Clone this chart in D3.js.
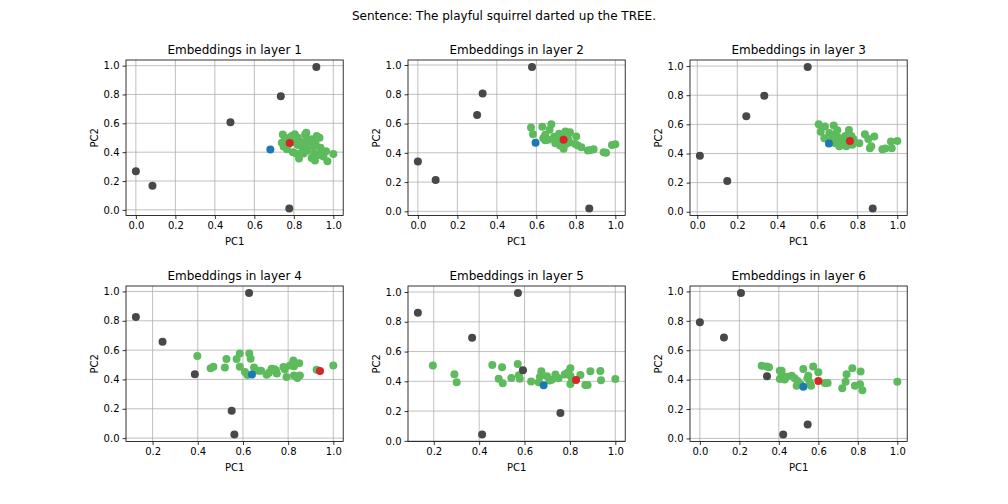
<!DOCTYPE html>
<html>
<head>
<meta charset="utf-8">
<script src="https://cdn.jsdelivr.net/npm/d3@7"></script>
<style>
  body { margin: 0; background: #fff; }
  text { font-family: "DejaVu Sans", sans-serif; fill: #000; }
</style>
</head>
<body>
<svg id="chart" width="1008" height="504"></svg>
<script>
// ---- data (PC1, PC2 per token, one list per layer) ----
const suptitle = 'Sentence: The playful squirrel darted up the TREE.';
const layerNames = [1, 2, 3, 4, 5, 6];

// other tokens of the sentence (dark grey)
const greyPoints = [
  [[0, 0.267], [0.084, 0.167], [0.479, 0.607], [0.734, 0.788], [0.914, 0.99], [0.777, 0.01]],
  [[0, 0.34], [0.09, 0.215], [0.30, 0.658], [0.328, 0.806], [0.578, 0.986], [0.868, 0.02]],
  [[0.013, 0.385], [0.15, 0.211], [0.245, 0.656], [0.335, 0.796], [0.552, 0.993], [0.877, 0.023]],
  [[0.126, 0.825], [0.244, 0.657], [0.387, 0.435], [0.627, 0.989], [0.55, 0.186], [0.562, 0.025]],
  [[0.13, 0.861], [0.369, 0.692], [0.571, 0.993], [0.593, 0.474], [0.758, 0.187], [0.413, 0.043]],
  [[0, 0.791], [0.122, 0.686], [0.208, 0.989], [0.34, 0.423], [0.546, 0.095], [0.422, 0.027]]
];

// neighbour words (green)
const greenPoints = [
  [[0.744, 0.523], [0.789, 0.512], [0.805, 0.525], [0.857, 0.523], [0.863, 0.535], [0.916, 0.512],
   [0.93, 0.5], [0.739, 0.465], [0.748, 0.44], [0.765, 0.42], [0.76, 0.48], [0.795, 0.4],
   [0.812, 0.39], [0.826, 0.356], [0.82, 0.45], [0.84, 0.47], [0.845, 0.42], [0.86, 0.44],
   [0.87, 0.41], [0.88, 0.47], [0.89, 0.49], [0.9, 0.44], [0.905, 0.39], [0.89, 0.36],
   [0.907, 0.342], [0.925, 0.38], [0.94, 0.4], [0.935, 0.43], [0.963, 0.407], [0.97, 0.337],
   [1.0, 0.388], [0.78, 0.5], [0.8, 0.47], [0.77, 0.45], [0.87, 0.49], [0.91, 0.46],
   [0.95, 0.37], [0.85, 0.39], [0.82, 0.5], [0.755, 0.5]],
  [[0.573, 0.573], [0.583, 0.527], [0.63, 0.578], [0.676, 0.596], [0.667, 0.557], [0.645, 0.523],
   [0.645, 0.486], [0.635, 0.5], [0.66, 0.49], [0.69, 0.51], [0.71, 0.475], [0.696, 0.466],
   [0.7, 0.5], [0.715, 0.53], [0.73, 0.52], [0.747, 0.546], [0.755, 0.53], [0.76, 0.5],
   [0.768, 0.47], [0.72, 0.45], [0.738, 0.427], [0.75, 0.46], [0.71, 0.5], [0.73, 0.5],
   [0.802, 0.511], [0.797, 0.461], [0.81, 0.45], [0.828, 0.438], [0.861, 0.416], [0.875, 0.42],
   [0.89, 0.425], [0.941, 0.404], [0.953, 0.4], [0.983, 0.454], [1.0, 0.459], [0.77, 0.54]],
  [[0.607, 0.601], [0.638, 0.585], [0.617, 0.55], [0.635, 0.505], [0.682, 0.592], [0.66, 0.54],
   [0.68, 0.5], [0.69, 0.53], [0.7, 0.56], [0.705, 0.51], [0.715, 0.48], [0.72, 0.5],
   [0.73, 0.46], [0.74, 0.52], [0.745, 0.45], [0.75, 0.49], [0.758, 0.562], [0.77, 0.52],
   [0.775, 0.46], [0.71, 0.45], [0.69, 0.47], [0.81, 0.47], [0.838, 0.532], [0.855, 0.5],
   [0.863, 0.436], [0.87, 0.45], [0.885, 0.516], [0.925, 0.429], [0.94, 0.435], [0.968, 0.482],
   [0.972, 0.436], [1.0, 0.486], [0.67, 0.49], [0.78, 0.5]],
  [[0.398, 0.559], [0.457, 0.477], [0.469, 0.486], [0.52, 0.482], [0.527, 0.539], [0.572, 0.539],
   [0.586, 0.577], [0.586, 0.486], [0.628, 0.577], [0.634, 0.541], [0.609, 0.45], [0.62, 0.43],
   [0.649, 0.482], [0.668, 0.459], [0.68, 0.46], [0.705, 0.432], [0.715, 0.445], [0.727, 0.473],
   [0.746, 0.461], [0.75, 0.44], [0.779, 0.484], [0.785, 0.47], [0.793, 0.416], [0.808, 0.495],
   [0.823, 0.53], [0.826, 0.49], [0.849, 0.511], [0.826, 0.427], [0.841, 0.409], [0.852, 0.427],
   [0.926, 0.466], [1.0, 0.495], [0.74, 0.47]],
  [[0.196, 0.506], [0.291, 0.447], [0.301, 0.393], [0.458, 0.51], [0.486, 0.418], [0.501, 0.494],
   [0.504, 0.387], [0.542, 0.422], [0.57, 0.517], [0.575, 0.44], [0.579, 0.418], [0.629, 0.398],
   [0.662, 0.393], [0.674, 0.467], [0.668, 0.43], [0.699, 0.434], [0.71, 0.405], [0.72, 0.41],
   [0.736, 0.445], [0.75, 0.42], [0.777, 0.445], [0.79, 0.46], [0.802, 0.488], [0.802, 0.438],
   [0.802, 0.382], [0.81, 0.41], [0.846, 0.443], [0.868, 0.375], [0.878, 0.375], [0.89, 0.467],
   [0.934, 0.47], [0.937, 0.407], [1.0, 0.416]],
  [[0.313, 0.495], [0.338, 0.49], [0.35, 0.484], [0.405, 0.461], [0.414, 0.427], [0.405, 0.405],
   [0.414, 0.461], [0.43, 0.4], [0.44, 0.42], [0.465, 0.427], [0.48, 0.41], [0.495, 0.39],
   [0.49, 0.359], [0.51, 0.37], [0.524, 0.473], [0.549, 0.427], [0.545, 0.41], [0.557, 0.382],
   [0.574, 0.489], [0.563, 0.359], [0.6, 0.45], [0.633, 0.377], [0.647, 0.377], [0.721, 0.341],
   [0.743, 0.436], [0.738, 0.386], [0.772, 0.477], [0.785, 0.359], [0.811, 0.368], [0.814, 0.455],
   [0.823, 0.327], [1.0, 0.386]]
];

// highlighted tokens
const bluePoints = [[0.681, 0.419], [0.596, 0.468], [0.658, 0.468], [0.64, 0.434], [0.684, 0.373], [0.524, 0.352]];
const redPoints = [[0.779, 0.463], [0.738, 0.489], [0.763, 0.486], [0.941, 0.457], [0.827, 0.409], [0.6, 0.391]];

// ---- layout ----
const colLeft = [126, 408, 690];
const rowTop = [60, 286];
const axW = 217.2;
const axH = 155.5;
const grey = '#484848', green = '#5dbb5d', blue = '#1f77b4', red = '#d62728';

const svg = d3.select('#chart');

svg.append('text')
  .attr('x', 504).attr('y', 20)
  .attr('text-anchor', 'middle')
  .attr('font-size', 12)
  .text(suptitle);

function pad(ext) {
  const m = (ext[1] - ext[0]) * 0.05;
  return [ext[0] - m, ext[1] + m];
}

layerNames.forEach((layer, i) => {
  const left = colLeft[i % 3];
  const top = rowTop[Math.floor(i / 3)];
  const all = greyPoints[i].concat(greenPoints[i], [bluePoints[i]], [redPoints[i]]);

  const x = d3.scaleLinear().domain(pad(d3.extent(all, (d) => d[0]))).range([0, axW]);
  const y = d3.scaleLinear().domain(pad(d3.extent(all, (d) => d[1]))).range([axH, 0]);

  const g = svg.append('g').attr('transform', `translate(${left},${top})`);

  // grid
  g.append('g').selectAll('line').data(x.ticks(5)).join('line')
    .attr('x1', (d) => x(d)).attr('x2', (d) => x(d))
    .attr('y1', 0).attr('y2', axH)
    .attr('stroke', '#b0b0b0').attr('stroke-width', 0.8);
  g.append('g').selectAll('line').data(y.ticks(5)).join('line')
    .attr('y1', (d) => y(d)).attr('y2', (d) => y(d))
    .attr('x1', 0).attr('x2', axW)
    .attr('stroke', '#b0b0b0').attr('stroke-width', 0.8);

  // points
  const dots = (data, color) => g.append('g').selectAll('circle').data(data).join('circle')
    .attr('cx', (d) => x(d[0])).attr('cy', (d) => y(d[1]))
    .attr('r', 4).attr('fill', color);
  dots(greenPoints[i], green);
  dots(greyPoints[i], grey);
  dots([bluePoints[i]], blue);
  dots([redPoints[i]], red);

  // axes
  const xAxis = g.append('g').attr('transform', `translate(0,${axH})`)
    .call(d3.axisBottom(x).ticks(5).tickFormat(d3.format('.1f')).tickSize(3.5).tickSizeOuter(0));
  const yAxis = g.append('g')
    .call(d3.axisLeft(y).ticks(5).tickFormat(d3.format('.1f')).tickSize(3.5).tickSizeOuter(0));
  [xAxis, yAxis].forEach((a) => {
    a.select('.domain').remove();
    a.selectAll('line').attr('stroke', '#000').attr('stroke-width', 0.8);
    a.selectAll('text').attr('font-size', 10).attr('font-family', '"DejaVu Sans", sans-serif').attr('fill', '#000');
  });

  g.append('rect')
    .attr('width', axW).attr('height', axH)
    .attr('fill', 'none').attr('stroke', '#000').attr('stroke-width', 0.8);

  g.append('text')
    .attr('x', axW / 2).attr('y', -6)
    .attr('text-anchor', 'middle').attr('font-size', 12)
    .text(`Embeddings in layer ${layer}`);

  g.append('text')
    .attr('x', axW / 2).attr('y', axH + 29)
    .attr('text-anchor', 'middle').attr('font-size', 10)
    .text('PC1');

  g.append('text')
    .attr('transform', `translate(-28,${axH / 2}) rotate(-90)`)
    .attr('text-anchor', 'middle').attr('font-size', 10)
    .text('PC2');
});
</script>
</body>
</html>
